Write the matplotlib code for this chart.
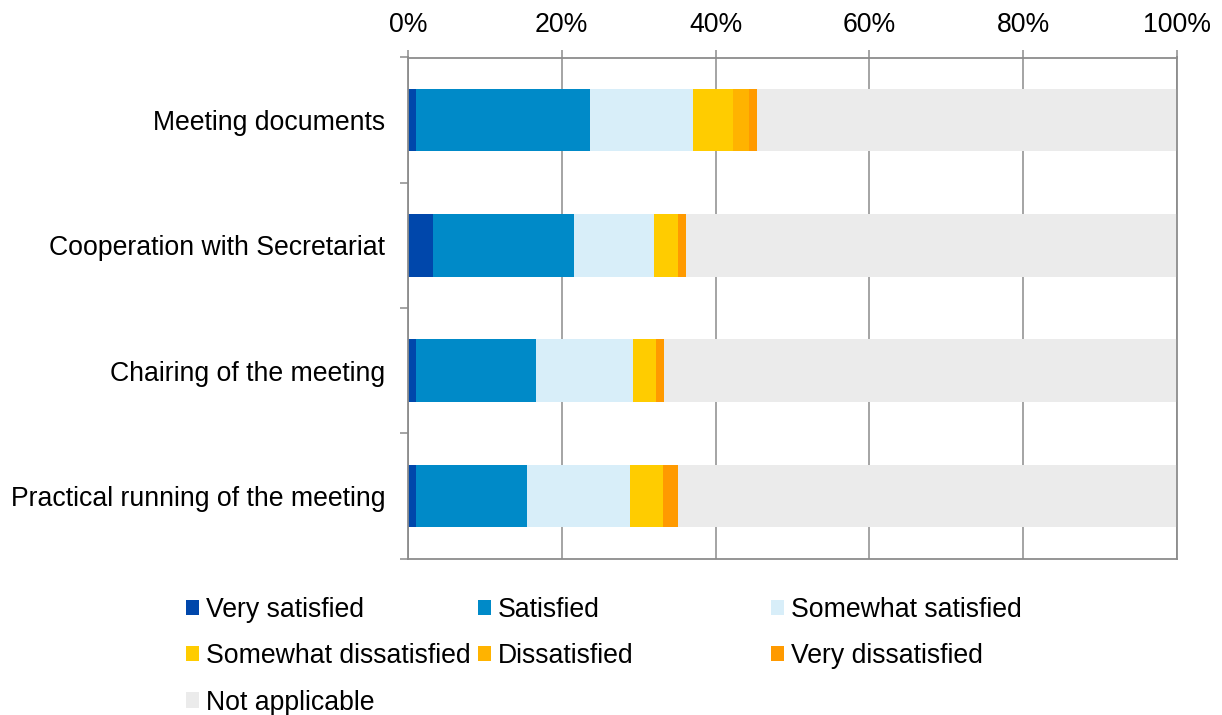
import matplotlib
matplotlib.use("Agg")
import matplotlib.pyplot as plt
import numpy as np
from matplotlib.patches import Patch
from matplotlib.ticker import FixedLocator, PercentFormatter

plt.rcParams['font.family'] = ['Liberation Sans', 'DejaVu Sans']

categories = ["Meeting documents", "Cooperation with Secretariat",
              "Chairing of the meeting", "Practical running of the meeting"]
series_names = ["Very satisfied", "Satisfied", "Somewhat satisfied",
                "Somewhat dissatisfied", "Dissatisfied", "Very dissatisfied",
                "Not applicable"]
very_satisfied = [1.1, 3.2, 1.1, 1.1]
satisfied = [22.6, 18.4, 15.6, 14.4]
somewhat_satisfied = [13.4, 10.4, 12.5, 13.4]
somewhat_dissatisfied = [5.2, 3.1, 3.1, 4.2]
dissatisfied = [2.1, 0.0, 0.0, 0.0]
very_dissatisfied = [1.0, 1.0, 1.0, 2.0]
not_applicable = [54.6, 63.9, 66.7, 64.9]
colors = ["#0047AB", "#008AC8", "#D8EEF9", "#FFCC00", "#FFB300", "#FF9A00", "#EBEBEB"]

series = [very_satisfied, satisfied, somewhat_satisfied, somewhat_dissatisfied,
          dissatisfied, very_dissatisfied, not_applicable]

FS = 19.2

fig = plt.figure(figsize=(12.22, 7.15), dpi=100)
ax = fig.add_axes([408/1222, 1-558.7/715, (1177-408)/1222, (558.7-57.5)/715])

y = np.arange(len(categories))
left = np.zeros(len(categories))
handles = []
for name, vals, c in zip(series_names, series, colors):
    vals = np.array(vals, dtype=float)
    ax.barh(y, vals, left=left, height=0.5, color=c, edgecolor='none', zorder=2)
    left += vals
    handles.append(Patch(facecolor=c, edgecolor='none', label=name))

gray = "#8C8C8C"
ax.set_xlim(0, 100)
ax.set_ylim(len(categories) - 0.5, -0.5)
ax.set_axisbelow(True)
ax.xaxis.tick_top()
ax.set_xticks(np.arange(0, 101, 20))
ax.xaxis.set_major_formatter(PercentFormatter(decimals=0))
ax.grid(axis='x', color=gray, linewidth=1.1, zorder=0)
ax.tick_params(axis='x', which='major', length=6, width=1.1, color=gray,
               labelsize=FS, pad=8, top=True, bottom=False)

ax.set_yticks(y)
ax.set_yticklabels(categories)
ax.tick_params(axis='y', which='major', length=0, labelsize=FS, pad=16.5)
ax.yaxis.set_minor_locator(FixedLocator(np.arange(-0.5, len(categories), 1.0)))
ax.tick_params(axis='y', which='minor', length=6, width=1.1, color=gray, left=True)

for s in ax.spines.values():
    s.set_color(gray)
    s.set_linewidth(1.3)

# legend, laid out in three columns (row-major order as in the reference)
col_x = [186/1222, 478/1222, 771/1222]
order = [[0, 3, 6], [1, 4], [2, 5]]
for cx, idxs in zip(col_x, order):
    fig.legend(handles=[handles[i] for i in idxs],
               labels=[series_names[i] for i in idxs],
               loc='upper left', bbox_to_anchor=(cx, 1-597/715),
               frameon=False, fontsize=FS, handlelength=0.5,
               handleheight=0.5, handletextpad=0.25, labelspacing=0.76,
               borderpad=0, borderaxespad=0)

fig.savefig("out.png", dpi=100)
